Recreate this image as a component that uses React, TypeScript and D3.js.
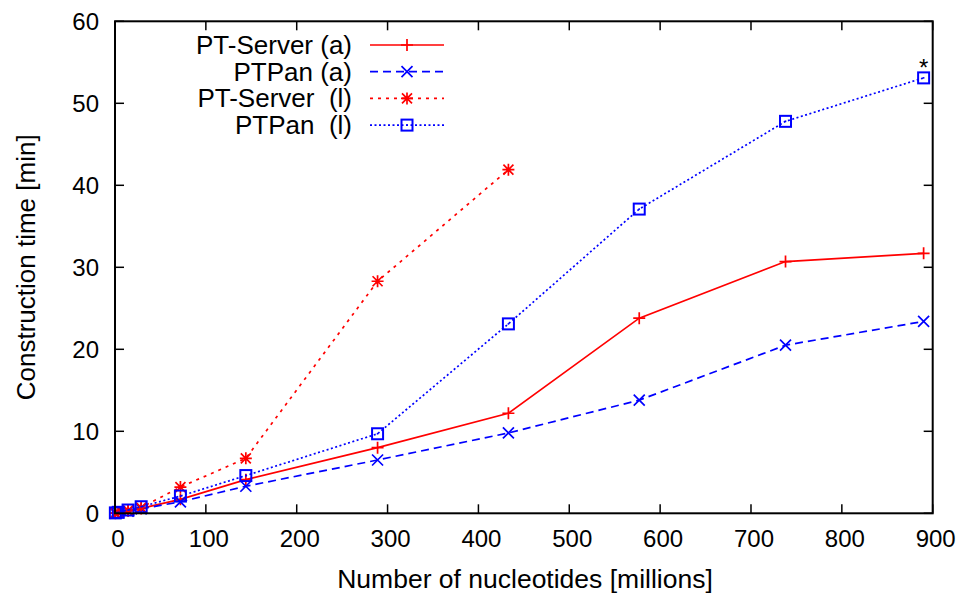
import React from "react";
import * as d3 from "d3";

// Input sizes (millions of nucleotides)
const sizes = [0.4, 3.6, 14.4, 28.8, 72, 144, 289, 433, 577, 738, 890];

// Construction times (minutes)
const ptServerA = [0.02, 0.08, 0.3, 0.6, 1.7, 4.1, 8.0, 12.2, 23.8, 30.7, 31.7];
const ptPanA = [0.02, 0.07, 0.25, 0.55, 1.4, 3.3, 6.5, 9.8, 13.8, 20.5, 23.4];
const ptServerL = [0.03, 0.1, 0.35, 0.7, 3.2, 6.7, 28.3, 41.9];
const ptPanL = [0.05, 0.12, 0.4, 0.8, 2.1, 4.6, 9.7, 23.1, 37.1, 47.8, 53.1];

const xTicks = [0, 100, 200, 300, 400, 500, 600, 700, 800, 900];
const yTicks = [0, 10, 20, 30, 40, 50, 60];

const seriesNames = ["PT-Server (a)", "PTPan (a)", "PT-Server\u00a0\u00a0(l)", "PTPan\u00a0\u00a0(l)"];

type Marker = "plus" | "cross" | "star" | "box";

const W = 962;
const H = 596;
const left = 115;
const right = 932.7;
const top = 21.3;
const bottom = 513.3;
const font = "'Liberation Sans', Arial, Helvetica, sans-serif";

const x = d3.scaleLinear().domain([0, 900]).range([left, right]);
const y = d3.scaleLinear().domain([0, 60]).range([bottom, top]);

function MarkerGlyph({ kind, cx, cy, color }: { kind: Marker; cx: number; cy: number; color: string }) {
  const s = 6;
  const sw = 1.7;
  if (kind === "plus") {
    return (
      <path d={`M${cx - s},${cy}H${cx + s}M${cx},${cy - s}V${cy + s}`} stroke={color} strokeWidth={sw} fill="none" />
    );
  }
  if (kind === "cross") {
    const k = 5.5;
    return (
      <path d={`M${cx - k},${cy - k}L${cx + k},${cy + k}M${cx - k},${cy + k}L${cx + k},${cy - k}`} stroke={color} strokeWidth={sw} fill="none" />
    );
  }
  if (kind === "star") {
    const k = 5;
    return (
      <path
        d={`M${cx - s},${cy}H${cx + s}M${cx},${cy - s}V${cy + s}M${cx - k},${cy - k}L${cx + k},${cy + k}M${cx - k},${cy + k}L${cx + k},${cy - k}`}
        stroke={color}
        strokeWidth={sw}
        fill="none"
      />
    );
  }
  return (
    <g>
      <rect x={cx - 5.5} y={cy - 5.5} width={11} height={11} stroke={color} strokeWidth={2} fill="none" />
      <rect x={cx - 0.8} y={cy - 0.8} width={1.6} height={1.6} fill={color} />
    </g>
  );
}

const series: { name: string; values: number[]; color: string; dash: string | undefined; marker: Marker }[] = [
  { name: seriesNames[0], values: ptServerA, color: "#ff0000", dash: undefined, marker: "plus" },
  { name: seriesNames[1], values: ptPanA, color: "#0000ff", dash: "8,5", marker: "cross" },
  { name: seriesNames[2], values: ptServerL, color: "#ff0000", dash: "3,5", marker: "star" },
  { name: seriesNames[3], values: ptPanL, color: "#0000ff", dash: "2,2.5", marker: "box" },
];

export default function App() {
  const line = d3
    .line<[number, number]>()
    .x((d) => x(d[0]))
    .y((d) => y(d[1]));

  const tickLen = 9;

  return (
    <svg width={W} height={H} style={{ position: "absolute", left: 0, top: 0, background: "#fff" }} fontFamily={font}>
      <rect width={W} height={H} fill="#fff" />
      {/* tick marks on all four sides */}
      {xTicks.map((t) => (
        <g key={"xt" + t}>
          <line x1={x(t)} x2={x(t)} y1={bottom} y2={bottom - tickLen} stroke="#000" strokeWidth={1.5} />
          <line x1={x(t)} x2={x(t)} y1={top} y2={top + tickLen} stroke="#000" strokeWidth={1.5} />
          <text x={x(t) + 3} y={547} fontSize={24} textAnchor="middle" fill="#000">
            {t}
          </text>
        </g>
      ))}
      {yTicks.map((t) => (
        <g key={"yt" + t}>
          <line x1={left} x2={left + tickLen} y1={y(t)} y2={y(t)} stroke="#000" strokeWidth={1.5} />
          <line x1={right} x2={right - tickLen} y1={y(t)} y2={y(t)} stroke="#000" strokeWidth={1.5} />
          <text x={99} y={y(t) + 8.5} fontSize={24} textAnchor="end" fill="#000">
            {t}
          </text>
        </g>
      ))}

      {/* data series */}
      {series.map((s) => {
        const pts: [number, number][] = s.values.map((v, i) => [sizes[i], v]);
        return (
          <g key={s.name}>
            <path d={line(pts) || ""} fill="none" stroke={s.color} strokeWidth={1.7} strokeDasharray={s.dash} />
            {pts.map((p, i) => (
              <MarkerGlyph key={i} kind={s.marker} cx={x(p[0])} cy={y(p[1])} color={s.color} />
            ))}
          </g>
        );
      })}

      {/* annotation on the last PTPan (l) point */}
      <text x={x(sizes[sizes.length - 1])} y={y(ptPanL[ptPanL.length - 1]) - 1.5} fontSize={24} textAnchor="middle" fill="#000">
        *
      </text>

      {/* legend */}
      {series.map((s, i) => {
        const cy = 45 + i * 26.7;
        return (
          <g key={"lg" + s.name}>
            <text x={352} y={cy + 9} fontSize={26} textAnchor="end" fill="#000">
              {s.name}
            </text>
            <line x1={370} x2={444} y1={cy} y2={cy} stroke={s.color} strokeWidth={1.7} strokeDasharray={s.dash} />
            <MarkerGlyph kind={s.marker} cx={407} cy={cy} color={s.color} />
          </g>
        );
      })}

      {/* frame */}
      <rect x={left} y={top} width={right - left} height={bottom - top} fill="none" stroke="#000" strokeWidth={2} />

      {/* axis titles */}
      <text x={525} y={588} fontSize={26.5} textAnchor="middle" fill="#000">
        Number of nucleotides [millions]
      </text>
      <text transform={`translate(35,${(top + bottom) / 2}) rotate(-90)`} fontSize={26} textAnchor="middle" fill="#000">
        Construction time [min]
      </text>
    </svg>
  );
}
